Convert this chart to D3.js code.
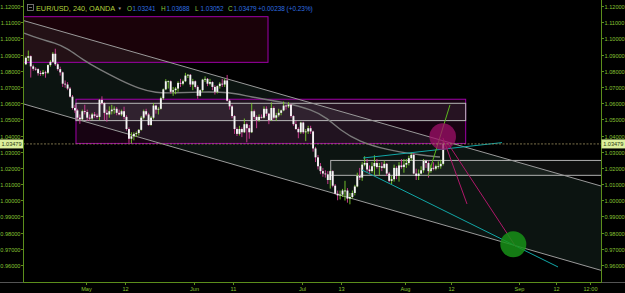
<!DOCTYPE html>
<html><head><meta charset="utf-8">
<script src="https://cdn.jsdelivr.net/npm/d3@7"></script>
<style>html,body{margin:0;padding:0;background:#000;overflow:hidden}svg{display:block}</style>
</head><body><svg id="c" width="625" height="293"></svg>
<script>
// ---------- DATA ----------
// 12h bars, EUR/USD (OANDA), starting at trading-day index -12.5 (May 2 = day 0)
const barStart = -12.5, barStep = 0.5;
const opens = [1.0840,1.0880,1.0890,1.0827,1.0812,1.0810,1.0785,1.0780,1.0790,1.0788,1.0835,1.0855,1.0905,1.0840,1.0810,1.0790,1.0720,1.0715,1.0690,1.0640,1.0570,1.0555,1.0510,1.0500,1.0550,
1.0545,1.0510,1.0505,1.0530,1.0522,1.0515,1.0620,1.0600,1.0540,1.0530,1.0550,1.0560,1.0565,1.0540,1.0530,1.0550,1.0515,1.0440,1.0380,1.0395,1.0410,1.0415,1.0435,1.0510,1.0550,1.0530,1.0465,1.0510,1.0585,1.0560,
1.0565,1.0630,1.0685,1.0735,1.0735,1.0670,1.0680,1.0690,1.0725,1.0720,1.0735,1.0770,1.0775,1.0715,1.0735,1.0700,1.0645,1.0680,1.0745,1.0750,1.0720,1.0730,1.0700,1.0670,1.0705,1.0720,1.0715,1.0740,1.0615,1.0580,
1.0520,1.0440,1.0410,1.0440,1.0420,1.0470,1.0445,1.0420,1.0550,1.0515,1.0495,1.0515,1.0510,1.0565,1.0535,1.0495,1.0570,1.0510,1.0525,1.0540,1.0555,1.0585,1.0580,1.0590,1.0520,1.0470,1.0440,1.0420,1.0480,1.0420,
1.0425,1.0445,1.0425,1.0320,1.0265,1.0210,1.0180,1.0165,1.0160,1.0125,1.0180,1.0090,1.0040,1.0030,1.0035,1.0060,1.0060,1.0010,1.0020,1.0045,1.0085,1.0150,1.0140,1.0220,1.0230,1.0190,1.0180,1.0210,1.0230,1.0205,
1.0210,1.0200,1.0225,1.0165,1.0120,1.0130,1.0200,1.0150,1.0215,1.0205,1.0220,1.0230,1.0260,1.0280,1.0165,1.0150,1.0165,1.0185,1.0245,1.0230,1.0180,1.0200,1.0195,1.0210,1.0210,1.0225];
const highs = [1.0888,1.0925,1.0895,1.0838,1.0822,1.0815,1.0800,1.0805,1.0800,1.0840,1.0865,1.0915,1.0936,1.0850,1.0825,1.0795,1.0740,1.0730,1.0700,1.0650,1.0590,1.0565,1.0530,1.0560,1.0590,
1.0560,1.0530,1.0540,1.0545,1.0535,1.0625,1.0642,1.0605,1.0560,1.0580,1.0590,1.0580,1.0575,1.0560,1.0560,1.0578,1.0525,1.0450,1.0420,1.0420,1.0425,1.0440,1.0520,1.0560,1.0565,1.0540,1.0520,1.0600,1.0590,1.0575,
1.0640,1.0690,1.0748,1.0740,1.0740,1.0700,1.0700,1.0735,1.0750,1.0745,1.0787,1.0780,1.0780,1.0750,1.0740,1.0710,1.0685,1.0750,1.0765,1.0755,1.0750,1.0735,1.0710,1.0710,1.0730,1.0750,1.0750,1.0774,1.0625,1.0590,
1.0525,1.0450,1.0460,1.0450,1.0505,1.0480,1.0465,1.0600,1.0560,1.0525,1.0530,1.0530,1.0580,1.0580,1.0540,1.0605,1.0580,1.0540,1.0565,1.0560,1.0610,1.0590,1.0606,1.0595,1.0525,1.0490,1.0450,1.0485,1.0485,1.0440,
1.0460,1.0460,1.0430,1.0330,1.0280,1.0230,1.0200,1.0185,1.0180,1.0185,1.0185,1.0100,1.0060,1.0060,1.0070,1.0120,1.0075,1.0045,1.0060,1.0095,1.0170,1.0200,1.0235,1.0272,1.0255,1.0215,1.0235,1.0278,1.0255,1.0230,
1.0235,1.0245,1.0230,1.0175,1.0150,1.0220,1.0210,1.0235,1.0255,1.0255,1.0255,1.0275,1.0295,1.0290,1.0195,1.0190,1.0210,1.0255,1.0250,1.0240,1.0220,1.0235,1.0220,1.0240,1.0250,1.0369];
const lows = [1.0835,1.0860,1.0758,1.0800,1.0800,1.0770,1.0768,1.0770,1.0757,1.0780,1.0825,1.0850,1.0830,1.0800,1.0770,1.0700,1.0695,1.0680,1.0635,1.0560,1.0540,1.0500,1.0472,1.0495,1.0530,
1.0490,1.0490,1.0495,1.0510,1.0505,1.0495,1.0590,1.0495,1.0485,1.0510,1.0530,1.0535,1.0525,1.0525,1.0520,1.0500,1.0430,1.0354,1.0350,1.0370,1.0390,1.0400,1.0430,1.0500,1.0520,1.0460,1.0460,1.0500,1.0535,1.0530,
1.0560,1.0620,1.0680,1.0690,1.0660,1.0645,1.0655,1.0670,1.0700,1.0710,1.0730,1.0755,1.0700,1.0680,1.0690,1.0627,1.0640,1.0670,1.0730,1.0705,1.0710,1.0680,1.0653,1.0660,1.0690,1.0700,1.0700,1.0610,1.0560,1.0507,
1.0410,1.0397,1.0400,1.0390,1.0415,1.0358,1.0380,1.0415,1.0500,1.0445,1.0485,1.0505,1.0505,1.0520,1.0470,1.0490,1.0500,1.0490,1.0515,1.0525,1.0550,1.0560,1.0570,1.0510,1.0460,1.0435,1.0383,1.0410,1.0410,1.0365,
1.0410,1.0410,1.0300,1.0236,1.0190,1.0161,1.0145,1.0140,1.0100,1.0072,1.0080,1.0035,1.0000,1.0005,1.0020,0.9998,0.9985,0.9975,1.0010,1.0030,1.0080,1.0125,1.0120,1.0210,1.0175,1.0160,1.0170,1.0155,1.0195,1.0155,
1.0180,1.0195,1.0150,1.0110,1.0100,1.0115,1.0130,1.0115,1.0195,1.0170,1.0200,1.0215,1.0245,1.0160,1.0125,1.0125,1.0160,1.0170,1.0200,1.0140,1.0170,1.0185,1.0185,1.0195,1.0195,1.0215];
const closes = [1.0880,1.0890,1.0827,1.0812,1.0810,1.0785,1.0780,1.0790,1.0788,1.0835,1.0855,1.0905,1.0840,1.0810,1.0790,1.0720,1.0715,1.0690,1.0640,1.0570,1.0555,1.0510,1.0500,1.0550,1.0545,
1.0510,1.0505,1.0530,1.0522,1.0515,1.0620,1.0600,1.0540,1.0530,1.0550,1.0560,1.0565,1.0540,1.0530,1.0550,1.0515,1.0440,1.0380,1.0395,1.0410,1.0415,1.0435,1.0510,1.0550,1.0530,1.0465,1.0510,1.0585,1.0560,1.0565,
1.0630,1.0685,1.0735,1.0735,1.0670,1.0680,1.0690,1.0725,1.0720,1.0735,1.0770,1.0775,1.0715,1.0735,1.0700,1.0645,1.0680,1.0745,1.0750,1.0720,1.0730,1.0700,1.0670,1.0705,1.0720,1.0715,1.0740,1.0615,1.0580,1.0520,
1.0440,1.0410,1.0440,1.0420,1.0470,1.0445,1.0420,1.0550,1.0515,1.0495,1.0515,1.0510,1.0565,1.0535,1.0495,1.0570,1.0510,1.0525,1.0540,1.0555,1.0585,1.0580,1.0590,1.0520,1.0470,1.0440,1.0420,1.0480,1.0420,1.0425,
1.0445,1.0425,1.0320,1.0265,1.0210,1.0180,1.0165,1.0160,1.0125,1.0180,1.0090,1.0040,1.0030,1.0035,1.0060,1.0060,1.0010,1.0020,1.0045,1.0085,1.0150,1.0140,1.0220,1.0230,1.0190,1.0180,1.0210,1.0230,1.0205,1.0210,
1.0200,1.0225,1.0165,1.0120,1.0130,1.0200,1.0150,1.0215,1.0205,1.0220,1.0230,1.0260,1.0280,1.0165,1.0150,1.0165,1.0185,1.0245,1.0230,1.0180,1.0200,1.0195,1.0210,1.0210,1.0225,1.03479];

// moving average: trading-day index / price
const maIdx = [-12.6,-9.4,-6.3,-3.9,-0.6,2.9,6.9,11.0,14.1,18.1,23.2,29.3,33.4,40.1,46.2,49.1,51.7,55.8,59.9,63.9,68.0,72.1];
const maVal = [1.1033,1.0996,1.0971,1.0941,1.0867,1.0805,1.0743,1.0687,1.0663,1.0663,1.0669,1.0669,1.0638,1.0607,1.0558,1.0508,1.0434,1.0360,1.0323,1.0298,1.0280,1.0267];

const yTicks = [1.12,1.11,1.10,1.09,1.08,1.07,1.06,1.05,1.04,1.03,1.02,1.01,1.00,0.99,0.98,0.97,0.96];
const xTickLabels = ["May","12","Jun","11","Jul","13","Aug","12","Sep","12","12:00"];
const xTickIdx = [0,8,22,30,44,52,65,74.3,88.2,95.8,102.7];

const symbolText = "EUR/USD, 240, OANDA";
const ohlcLetters = ["O","H","L","C"];
const ohlcValues = ["1.03241","1.03688","1.03052","1.03479"];
const changeText = "+0.00238 (+0.23%)";
const lastPrice = 1.03479;

// drawings (trading-day index, price)
const topBox = {i0:-12.9, i1:37.07, p0:1.1134, p1:1.0852};
const midBox = {i0:-2.04, i1:77.33, p0:1.0624, p1:1.0351};
const midInner = {i0:-2.04, i1:77.33, p0:1.0599, p1:1.0492};
const lowBox = {i0:49.84, i1:105, p0:1.0246, p1:1.0154};
const chanUpper = [[-12.83,1.1111],[104.89,1.0088]];
const chanLower = [[-12.83,1.0596],[104.89,0.9567]];
const teal1 = [[56.42,1.0261],[84.73,1.0356]];
const teal2 = [[56.21,1.0187],[96.13,0.9588]];
const greenLine = [[69.65,1.0150],[74.13,1.0589]];
const pinkA = [[72.71,1.0385],[77.60,0.9977]];
const pinkB = [[73.52,1.0360],[87.58,0.9711]];
const pinkCircle = [72.65,1.0393];
const greenCircle = [87.03,0.9728];

// ---------- DRAW ----------
const svg = d3.select("#c");
const W = 625, H = 293;
const x = d3.scaleLinear().domain([-12.83,104.89]).range([23,601]);
const y = d3.scaleLinear().domain([0.96,1.12]).range([265,6]);
const FONT = "Liberation Sans, Arial, sans-serif";

svg.append("rect").attr("width",W).attr("height",H).attr("fill","#000");
svg.append("defs").append("clipPath").attr("id","pc").append("rect").attr("x",23).attr("y",0).attr("width",578).attr("height",282);
const plot = svg.append("g").attr("clip-path","url(#pc)");

// channel fill
plot.append("path")
  .attr("d", d3.line()([[x(chanUpper[0][0]),y(chanUpper[0][1])],[x(chanUpper[1][0]),y(chanUpper[1][1])],[x(chanLower[1][0]),y(chanLower[1][1])],[x(chanLower[0][0]),y(chanLower[0][1])]]) + "Z")
  .attr("fill","#0c1411");

function box(b, fill, stroke, sw){
  plot.append("rect").attr("x",x(b.i0)).attr("y",y(b.p0)).attr("width",x(b.i1)-x(b.i0)).attr("height",y(b.p1)-y(b.p0))
    .attr("fill",fill).attr("stroke",stroke).attr("stroke-width",sw);
}
box(topBox,"rgba(120,10,40,0.22)","#a000a8",1);
box(midBox,"rgba(140,20,110,0.16)","#a000a8",1);
box(midInner,"rgba(200,190,200,0.09)","#b8b8b8",1);
box(lowBox,"rgba(200,210,205,0.07)","#b0b0b0",1);

// moving average
plot.append("path").datum(maIdx.map((d,i)=>[d,maVal[i]]))
  .attr("d", d3.line().x(d=>x(d[0])).y(d=>y(d[1])).curve(d3.curveBasis))
  .attr("fill","none").attr("stroke","#7a7a7a").attr("stroke-width",1.4);

function seg(pts, color, w){
  plot.append("line").attr("x1",x(pts[0][0])).attr("y1",y(pts[0][1])).attr("x2",x(pts[1][0])).attr("y2",y(pts[1][1]))
    .attr("stroke",color).attr("stroke-width",w);
}
seg(chanUpper,"#9a9a9a",1);
seg(chanLower,"#9a9a9a",1);

// candles
const bars = closes.map((c,i)=>({i:barStart+i*barStep+barStep/2,o:opens[i],h:highs[i],l:lows[i],c:c}));
const cg = plot.append("g");
cg.selectAll("line").data(bars).join("line")
  .attr("x1",d=>x(d.i)).attr("x2",d=>x(d.i)).attr("y1",d=>y(d.h)).attr("y2",d=>y(d.l))
  .attr("stroke",d=>d.c>=d.o?"#7ccf2e":"#d8409a").attr("stroke-width",0.9);
cg.selectAll("rect").data(bars).join("rect")
  .attr("x",d=>x(d.i)-0.95).attr("width",1.9)
  .attr("y",d=>y(Math.max(d.o,d.c))).attr("height",d=>Math.max(0.8,Math.abs(y(d.o)-y(d.c))))
  .attr("fill","#f4f4f4");

// drawings
seg(teal1,"#11a7a7",1);
seg(teal2,"#11a7a7",1);
seg(greenLine,"#5bb81e",1);
seg(pinkA,"#b0186a",1);
seg(pinkB,"#b0186a",1);
plot.append("circle").attr("cx",x(pinkCircle[0])).attr("cy",y(pinkCircle[1])).attr("r",13.3).attr("fill","#a0106a").attr("opacity",0.75);
plot.append("circle").attr("cx",x(greenCircle[0])).attr("cy",y(greenCircle[1])).attr("r",13).attr("fill","#189018").attr("opacity",0.85);

// last price line
plot.append("line").attr("x1",23).attr("x2",601).attr("y1",y(lastPrice)).attr("y2",y(lastPrice))
  .attr("stroke","#9c8f5e").attr("stroke-width",0.8).attr("stroke-dasharray","2,1.5");

// axes
const ax = svg.append("g").attr("font-family",FONT).attr("font-size",5.6).attr("fill","#86c232");
svg.append("line").attr("x1",0).attr("x2",W).attr("y1",282.5).attr("y2",282.5).attr("stroke","#6a6a6a").attr("stroke-width",0.8);
svg.append("line").attr("x1",23.5).attr("x2",23.5).attr("y1",0).attr("y2",282.5).attr("stroke","#5c8e1c").attr("stroke-width",1);
svg.append("line").attr("x1",601.5).attr("x2",601.5).attr("y1",0).attr("y2",282.5).attr("stroke","#5c8e1c").attr("stroke-width",1);
svg.append("line").attr("x1",23.5).attr("x2",601.5).attr("y1",282.5).attr("y2",282.5).attr("stroke","#5c8e1c").attr("stroke-width",1);

yTicks.forEach(v=>{
  const yy = Math.round(y(v))+0.5;
  svg.append("line").attr("x1",21).attr("x2",23.5).attr("y1",yy).attr("y2",yy).attr("stroke","#5c8e1c");
  svg.append("line").attr("x1",601.5).attr("x2",604).attr("y1",yy).attr("y2",yy).attr("stroke","#5c8e1c");
  ax.append("text").attr("x",20.5).attr("y",yy+2).attr("text-anchor","end").text(v.toFixed(5));
  ax.append("text").attr("x",604.5).attr("y",yy+2).text(v.toFixed(5));
});
xTickLabels.forEach((t,i)=>{
  const xx = Math.round(x(xTickIdx[i]))+0.5;
  svg.append("line").attr("x1",xx).attr("x2",xx).attr("y1",282.5).attr("y2",285).attr("stroke","#5c8e1c");
  ax.append("text").attr("x",xx).attr("y",291).attr("text-anchor","middle").text(t);
});

// price labels
[[0,23],[601.5,23.5]].forEach(([bx,bw])=>{
  svg.append("rect").attr("x",bx).attr("y",y(lastPrice)-4.5).attr("width",bw).attr("height",9).attr("fill","#dcef9c");
  svg.append("text").attr("x",bx+bw/2).attr("y",y(lastPrice)+2).attr("text-anchor","middle")
    .attr("font-family",FONT).attr("font-size",5.6).attr("fill","#2a3a10").text(lastPrice.toFixed(5));
});

// header
svg.append("rect").attr("x",27.5).attr("y",4.5).attr("width",6).attr("height",6).attr("fill","none").attr("stroke","#8a8a8a").attr("stroke-width",0.8);
svg.append("line").attr("x1",29).attr("x2",32).attr("y1",7.5).attr("y2",7.5).attr("stroke","#8a8a8a").attr("stroke-width",0.8);
svg.append("text").attr("x",36).attr("y",10.5).attr("font-family",FONT).attr("font-size",7.3).attr("fill","#b2d23c").text(symbolText);
svg.append("text").attr("x",117.5).attr("y",9.5).attr("font-family",FONT).attr("font-size",4.5).attr("fill","#9a9a9a").text("▼");
const ohlcX = [127,161,195,228];
const vt = svg.append("g").attr("font-family",FONT).attr("font-size",6.4);
ohlcLetters.forEach((l,i)=>{
  vt.append("text").attr("x",ohlcX[i]).attr("y",10.5).attr("fill","#8cc63f").text(l);
  vt.append("text").attr("x",ohlcX[i]+5.5).attr("y",10.5).attr("fill","#2f6fe0").text(ohlcValues[i]);
});
vt.append("text").attr("x",258).attr("y",10.5).attr("fill","#2f6fe0").text(changeText);
</script></body></html>
